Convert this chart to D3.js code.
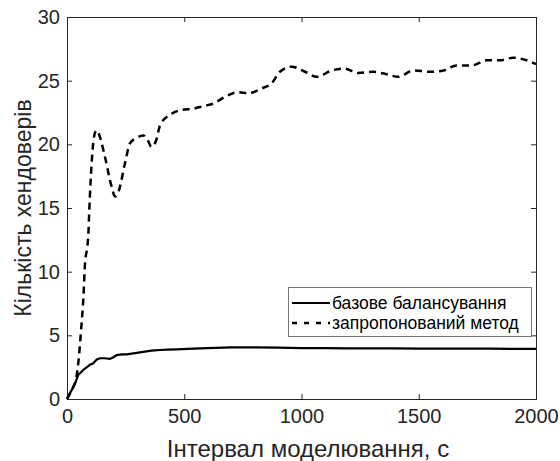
<!DOCTYPE html>
<html><head><meta charset="utf-8">
<script src="https://cdn.jsdelivr.net/npm/d3@7"></script>
<style>body{margin:0;background:#fff;} text{font-family:"Liberation Sans",Arial,sans-serif;}</style>
</head><body>
<svg id="c" width="560" height="461"></svg>
<script>
const xTicks = [0, 500, 1000, 1500, 2000];
const yTicks = [0, 5, 10, 15, 20, 25, 30];
const seriesNames = ["базове балансування", "запропонований метод"];
const xLabel = "Інтервал моделювання, с";
const yLabel = "Кількість хендоверів";

const baseX = [0, 10, 20, 34, 48, 60, 70, 85, 98, 112, 127, 141, 160, 183, 200, 212, 235, 255, 290, 325, 360, 397, 430, 468, 539, 600, 700, 800, 900, 1000, 1100, 1200, 1300, 1400, 1500, 1600, 1700, 1800, 1900, 2000];
const baseY = [0, 0.4, 0.7, 1.2, 1.9, 2.1, 2.3, 2.5, 2.7, 2.8, 3.1, 3.2, 3.2, 3.15, 3.3, 3.45, 3.5, 3.5, 3.6, 3.7, 3.8, 3.85, 3.88, 3.9, 3.95, 4.0, 4.05, 4.05, 4.03, 4.0, 4.0, 3.98, 3.97, 3.97, 3.96, 3.95, 3.95, 3.95, 3.94, 3.93];

const propX = [0, 20, 40, 48, 60, 70, 77, 87, 91, 95, 105, 119, 127, 140, 162, 190, 205, 220, 247, 269, 297, 325, 345, 360, 380, 397, 446, 489, 539, 581, 624, 681, 731, 773, 830, 873, 908, 958, 1015, 1065, 1129, 1185, 1242, 1306, 1363, 1413, 1477, 1548, 1605, 1662, 1726, 1790, 1846, 1903, 1960, 2000];
const propY = [0, 0.7, 1.7, 2.8, 5.4, 8.0, 10.7, 12.0, 12.9, 14.8, 18.5, 20.9, 21.1, 20.6, 19.0, 16.7, 15.9, 16.3, 18.5, 20.1, 20.5, 20.7, 20.3, 19.8, 20.3, 21.5, 22.4, 22.7, 22.8, 23.0, 23.2, 23.8, 24.1, 24.0, 24.4, 24.8, 25.7, 26.1, 25.7, 25.3, 25.8, 25.95, 25.6, 25.7, 25.5, 25.3, 25.8, 25.7, 25.8, 26.2, 26.2, 26.6, 26.6, 26.8, 26.6, 26.3];

const L = 67, R = 536, T = 17, B = 399;
const svg = d3.select("#c");
const x = d3.scaleLinear().domain([0, 2000]).range([L, R]);
const y = d3.scaleLinear().domain([0, 30]).range([B, T]);
const axisCol = "#262626";

// axes
const gx = svg.append("g").attr("transform", `translate(0,${B})`)
  .call(d3.axisBottom(x).tickValues(xTicks).tickSize(-5).tickPadding(9).tickFormat(d3.format("d")));
const gxTop = svg.append("g").attr("transform", `translate(0,${T})`)
  .call(d3.axisTop(x).tickValues(xTicks).tickSize(-5).tickFormat(""));
const gy = svg.append("g").attr("transform", `translate(${L},0)`)
  .call(d3.axisLeft(y).tickValues(yTicks).tickSize(-5).tickPadding(7));
const gyR = svg.append("g").attr("transform", `translate(${R},0)`)
  .call(d3.axisRight(y).tickValues(yTicks).tickSize(-5).tickFormat(""));
[gx, gxTop, gy, gyR].forEach(g => {
  g.select(".domain").attr("stroke", axisCol).attr("stroke-width", 1);
  g.selectAll(".tick line").attr("stroke", axisCol);
  g.selectAll(".tick text").attr("fill", axisCol).style("font-size", "20px").style("font-family", "Liberation Sans, Arial, sans-serif");
});
gx.selectAll(".tick text").attr("dy", "0.75em");

// lines
const lineBase = d3.line().x((d, i) => x(baseX[i])).y(d => y(d));
const lineProp = d3.line().x((d, i) => x(propX[i])).y(d => y(d)).curve(d3.curveMonotoneX);
svg.append("path").attr("d", lineBase(baseY)).attr("fill", "none").attr("stroke", "#000").attr("stroke-width", 2.2);
svg.append("path").attr("d", lineProp(propY)).attr("fill", "none").attr("stroke", "#000").attr("stroke-width", 2.5).attr("stroke-dasharray", "7,5");

// labels
svg.append("text").attr("x", 308).attr("y", 457).attr("text-anchor", "middle")
  .attr("fill", axisCol).style("font-size", "24px").text(xLabel);
svg.append("text").attr("transform", `translate(31,${(T + B) / 2}) rotate(-90)`).attr("text-anchor", "middle")
  .attr("fill", axisCol).style("font-size", "23px").text(yLabel);

// legend
const lg = svg.append("g");
lg.append("rect").attr("x", 288.5).attr("y", 287.5).attr("width", 243).attr("height", 49)
  .attr("fill", "#fff").attr("stroke", "#777").attr("stroke-width", 1);
const rows = [{name: seriesNames[0], dash: null, yy: 303}, {name: seriesNames[1], dash: "5,7", yy: 323}];
rows.forEach(r => {
  const ln = lg.append("line").attr("x1", 292).attr("x2", 330).attr("y1", r.yy).attr("y2", r.yy)
    .attr("stroke", "#000").attr("stroke-width", 2.2);
  if (r.dash) ln.attr("stroke-dasharray", r.dash).attr("stroke-width", 2.5);
  lg.append("text").attr("x", 332).attr("y", r.yy).attr("dy", "0.35em")
    .attr("fill", "#000").style("font-size", "17.5px").text(r.name);
});
</script>
</body></html>
